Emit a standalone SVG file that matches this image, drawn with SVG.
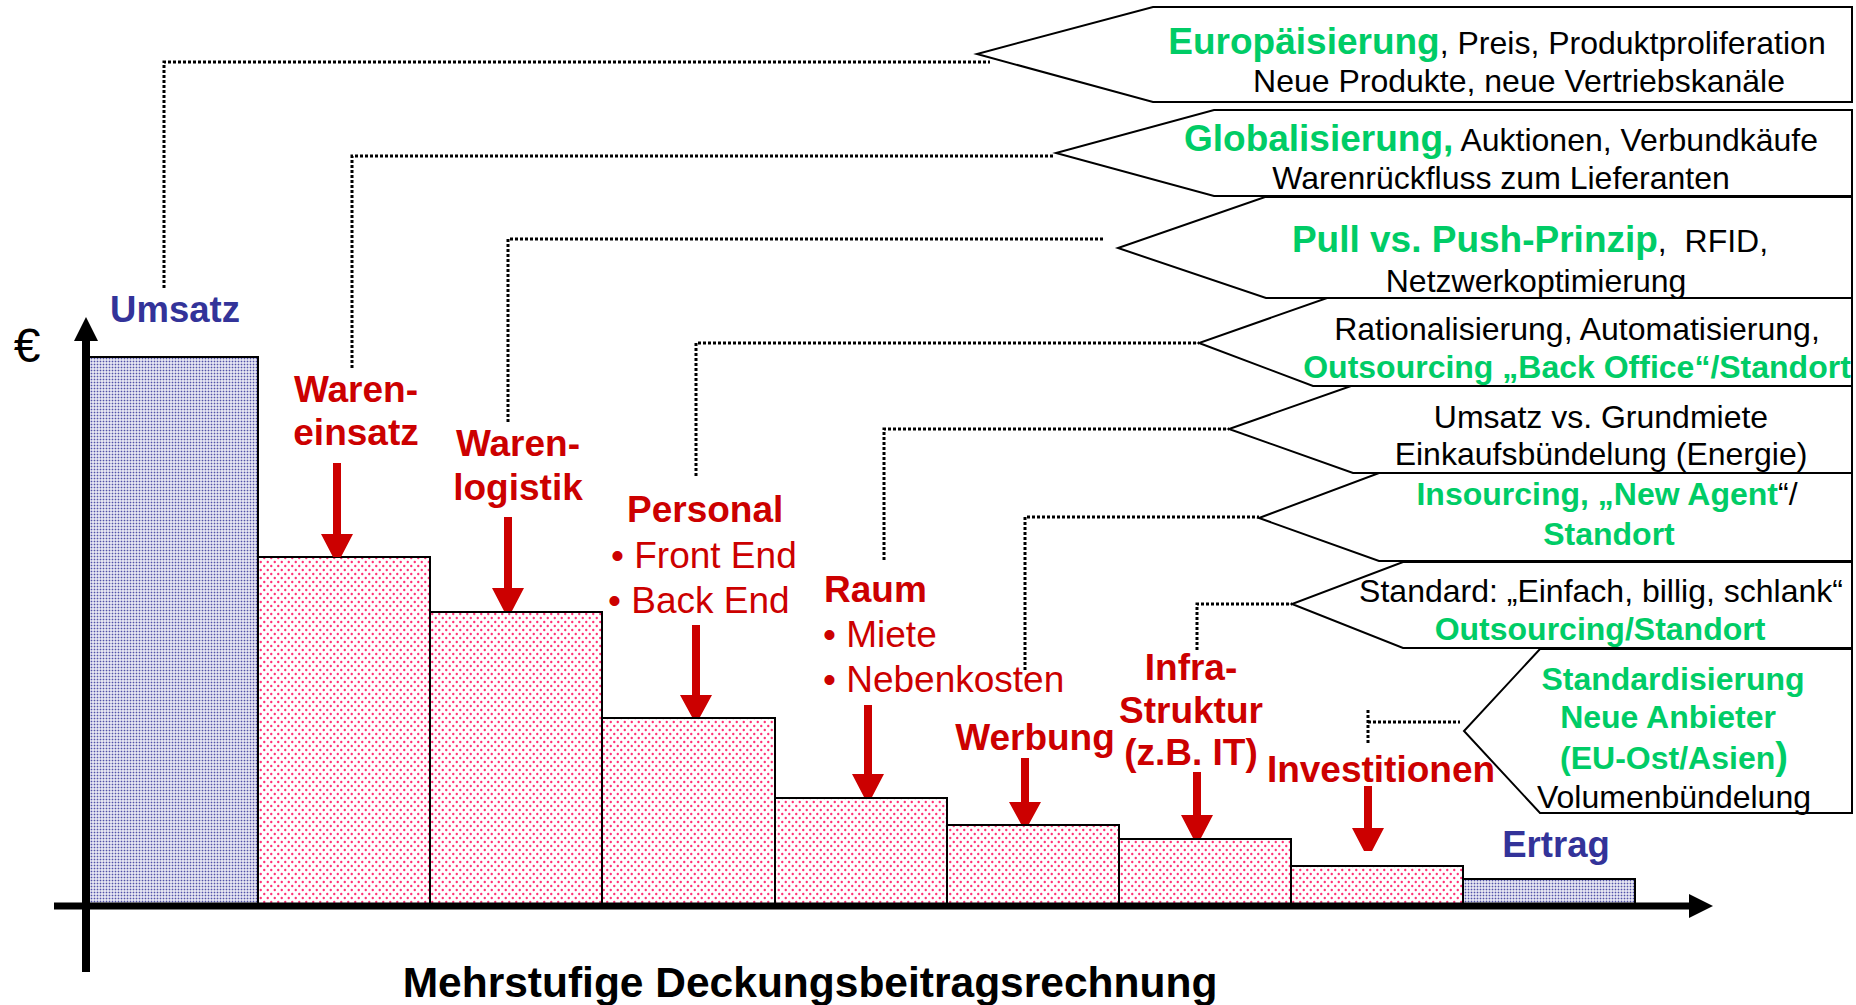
<svg xmlns="http://www.w3.org/2000/svg" width="1856" height="1005" viewBox="0 0 1856 1005">
<style>
text{font-family:"Liberation Sans",Arial,sans-serif}
.red{fill:#CC0000;font-size:37px}
.b{font-weight:bold}
.blue{fill:#333399;font-size:36.5px;font-weight:bold}
.k{fill:#000;font-size:32px}
.g{fill:#00CC66;font-weight:bold}
.gl{font-size:37px}
.mid{text-anchor:middle}
.bar{stroke:#000;stroke-width:2}
.call{fill:none;stroke:#000;stroke-width:2;stroke-linejoin:miter}
.dot{fill:none;stroke:#000;stroke-width:3;stroke-dasharray:3 2}
.arr{fill:#CC0000}
</style>
<defs>
<pattern id="pb" patternUnits="userSpaceOnUse" width="3" height="3">
<rect width="3" height="3" fill="#fff"/>
<rect x="0.6" y="0.6" width="1.8" height="1.8" fill="#5252A8"/>
</pattern>
<pattern id="pp" patternUnits="userSpaceOnUse" width="7" height="8">
<rect width="7" height="8" fill="#fff"/>
<circle cx="1.75" cy="2" r="1.2" fill="#FF3377"/>
<circle cx="5.25" cy="6" r="1.2" fill="#FF3377"/>
</pattern>
</defs>
<rect width="1856" height="1005" fill="#fff"/>

<g id="bars">
<rect class="bar" x="86" y="357" width="172" height="549" fill="url(#pb)"/>
<rect class="bar" x="258" y="557" width="172" height="349" fill="url(#pp)"/>
<rect class="bar" x="430" y="612" width="172" height="294" fill="url(#pp)"/>
<rect class="bar" x="602" y="718" width="173" height="188" fill="url(#pp)"/>
<rect class="bar" x="775" y="798" width="172" height="108" fill="url(#pp)"/>
<rect class="bar" x="947" y="825" width="172" height="81" fill="url(#pp)"/>
<rect class="bar" x="1119" y="839" width="172" height="67" fill="url(#pp)"/>
<rect class="bar" x="1291" y="866" width="172" height="40" fill="url(#pp)"/>
<rect class="bar" x="1463" y="879" width="172" height="27" fill="url(#pb)"/>
</g>

<g id="axes">
<line x1="86" y1="338" x2="86" y2="972" stroke="#000" stroke-width="8"/>
<polygon points="74,341 86,317 98,341" fill="#000"/>
<line x1="54" y1="906" x2="1692" y2="906" stroke="#000" stroke-width="7"/>
<polygon points="1689,894 1713,906 1689,918" fill="#000"/>
<text x="27" y="362" font-size="48" text-anchor="middle">€</text>
</g>

<g id="connectors">
<path class="dot" d="M164,288 V62 H990"/>
<path class="dot" d="M352,368 V156 H1053"/>
<path class="dot" d="M508,422 V239 H1104"/>
<path class="dot" d="M696,476 V343 H1199"/>
<path class="dot" d="M884,560 V429 H1229"/>
<path class="dot" d="M1025,670 V517 H1259"/>
<path class="dot" d="M1197,650 V604 H1292"/>
<path class="dot" d="M1368,710 V745 M1368,722 H1460"/>
</g>

<g id="arrows">
<path class="arr" d="M333,463 h8 v71 h12 l-12,23 h-8 l-12,-23 h12 z"/>
<path class="arr" d="M504,517 h8 v71 h12 l-12,23 h-8 l-12,-23 h12 z"/>
<path class="arr" d="M692,625 h8 v70 h12 l-12,22 h-8 l-12,-22 h12 z"/>
<path class="arr" d="M864,705 h8 v69 h12 l-12,23 h-8 l-12,-23 h12 z"/>
<path class="arr" d="M1021,758 h8 v44 h12 l-12,22 h-8 l-12,-22 h12 z"/>
<path class="arr" d="M1193,772 h8 v43 h12 l-12,23 h-8 l-12,-23 h12 z"/>
<path class="arr" d="M1364,786 h8 v42 h12 l-12,23 h-8 l-12,-23 h12 z"/>
</g>

<g id="node-umsatz"><text class="blue mid" x="175" y="322">Umsatz</text></g>
<g id="node-wareneinsatz">
<text class="red b mid" x="356" y="402">Waren-</text>
<text class="red b mid" x="356" y="445">einsatz</text>
</g>
<g id="node-warenlogistik">
<text class="red b mid" x="518" y="456">Waren-</text>
<text class="red b mid" x="518" y="500">logistik</text>
</g>
<g id="node-personal">
<text class="red b" x="627" y="522">Personal</text>
<text class="red" x="611" y="568">• Front End</text>
<text class="red" x="608" y="613">• Back End</text>
</g>
<g id="node-raum">
<text class="red b" x="824" y="602">Raum</text>
<text class="red" x="823" y="647">• Miete</text>
<text class="red" x="823" y="692">• Nebenkosten</text>
</g>
<g id="node-werbung"><text class="red b mid" x="1035" y="750">Werbung</text></g>
<g id="node-infrastruktur">
<text class="red b mid" x="1191" y="680">Infra-</text>
<text class="red b mid" x="1191" y="723">Struktur</text>
<text class="red b mid" x="1191" y="765">(z.B. IT)</text>
</g>
<g id="node-investitionen"><text class="red b mid" x="1381" y="782">Investitionen</text></g>
<g id="node-ertrag"><text class="blue mid" x="1556" y="857">Ertrag</text></g>

<g id="callout-1">
<polygon class="call" points="1153,7 1852,7 1852,102 1153,102 977,54"/>
<text class="k mid" x="1497" y="54"><tspan class="g gl">Europäisierung</tspan>, Preis, Produktproliferation</text>
<text class="k mid" x="1519" y="92">Neue Produkte, neue Vertriebskanäle</text>
</g>
<g id="callout-2">
<polygon class="call" points="1214,110 1852,110 1852,196 1214,196 1056,153"/>
<text class="k mid" x="1501" y="151"><tspan class="g gl">Globalisierung,</tspan> Auktionen, Verbundkäufe</text>
<text class="k mid" x="1501" y="189">Warenrückfluss zum Lieferanten</text>
</g>
<g id="callout-3">
<polygon class="call" points="1265,197 1852,197 1852,298 1266,298 1118,248"/>
<text class="k mid" x="1530" y="252"><tspan class="g gl">Pull vs. Push-Prinzip</tspan>,&#160; RFID,</text>
<text class="k mid" x="1536" y="292">Netzwerkoptimierung</text>
</g>
<g id="callout-4">
<polygon class="call" points="1327,298 1852,298 1852,386 1313,386 1199,343"/>
<text class="k mid" x="1577" y="340">Rationalisierung, Automatisierung,</text>
<text class="k g mid" x="1577" y="378">Outsourcing „Back Office“/Standort</text>
</g>
<g id="callout-5">
<polygon class="call" points="1351,386 1852,386 1852,473 1353,473 1229,429"/>
<text class="k mid" x="1601" y="428">Umsatz vs. Grundmiete</text>
<text class="k mid" x="1601" y="465">Einkaufsbündelung (Energie)</text>
</g>
<g id="callout-6">
<polygon class="call" points="1379,473 1852,473 1852,561 1379,561 1259,518"/>
<text class="k mid" x="1607" y="505"><tspan class="g">Insourcing, „New Agent</tspan>“/</text>
<text class="k g mid" x="1609" y="545">Standort</text>
</g>
<g id="callout-7">
<polygon class="call" points="1403,562 1852,562 1852,648 1403,648 1292,604"/>
<text class="k mid" x="1601" y="602">Standard: „Einfach, billig, schlank“</text>
<text class="k g mid" x="1600" y="640">Outsourcing/Standort</text>
</g>
<g id="callout-8">
<polygon class="call" points="1540,649 1852,649 1852,813 1540,813 1464,731"/>
<text class="k g mid" x="1673" y="690">Standardisierung</text>
<text class="k g mid" x="1668" y="728">Neue Anbieter</text>
<text class="k g mid" x="1674" y="769">(EU-Ost/Asien<tspan font-size="38">)</tspan></text>
<text class="k mid" x="1674" y="808">Volumenbündelung</text>
</g>

<g id="title"><text x="810" y="997" font-size="42.5" font-weight="bold" text-anchor="middle">Mehrstufige Deckungsbeitragsrechnung</text></g>
</svg>
